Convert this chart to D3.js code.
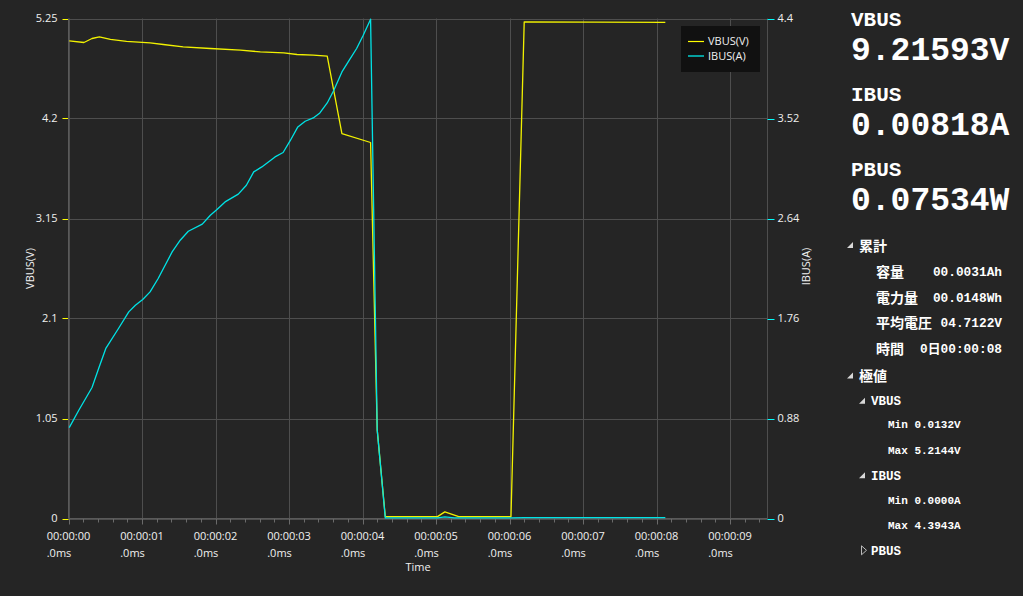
<!DOCTYPE html>
<html><head><meta charset="utf-8">
<script src="https://cdn.jsdelivr.net/npm/d3@7"></script>
<style>
html,body{margin:0;padding:0;background:#252525;}
svg{display:block;}
</style></head>
<body>
<svg id="c" width="1023" height="596"></svg>
<script>
// ---- data ----
const vTime = [0.01,0.21,0.32,0.42,0.57,0.79,1.11,1.29,1.56,1.93,2.34,2.61,2.93,3.11,3.33,3.52,3.72,4.11,4.2,4.31,5.02,5.12,5.31,6.02,6.2,8.12];
const vbusValues = [5.015,4.998,5.04,5.057,5.03,5.01,4.994,4.977,4.952,4.935,4.917,4.9,4.889,4.872,4.865,4.854,4.04,3.948,0.93,0.02,0.02,0.07,0.02,0.02,5.2144,5.21];
const iTime = [0.01,0.14,0.32,0.41,0.51,0.68,0.82,0.91,1.01,1.11,1.22,1.41,1.52,1.63,1.82,1.93,2.02,2.13,2.31,2.42,2.52,2.63,2.81,2.92,3.02,3.12,3.22,3.33,3.42,3.52,3.61,3.72,3.82,3.92,4.01,4.11,4.2,4.31,5.02,5.12,5.25,6.02,6.2,8.12];
const ibusValues = [0.80,0.953,1.153,1.32,1.50,1.672,1.818,1.877,1.927,1.994,2.112,2.346,2.449,2.528,2.59,2.669,2.719,2.786,2.854,2.933,3.05,3.094,3.182,3.221,3.329,3.446,3.496,3.525,3.569,3.657,3.769,3.93,4.033,4.136,4.253,4.3943,0.78,0.005,0.005,0.015,0.005,0.005,0.008,0.008];
const leftTicks = [0,1.05,2.1,3.15,4.2,5.25];
const rightTicks = [0,0.88,1.76,2.64,3.52,4.4];
const xTicks = [0,1,2,3,4,5,6,7,8,9];
const xTickLabels = ["00:00:00","00:00:01","00:00:02","00:00:03","00:00:04","00:00:05","00:00:06","00:00:07","00:00:08","00:00:09"];
const xTickSub = ".0ms";
const seriesNames = ["VBUS(V)","IBUS(A)"];
const seriesColors = ["#f2f200","#00e3e6"];
const liveLabels = ["VBUS","IBUS","PBUS"];
const liveValues = ["9.21593V","0.00818A","0.07534W"];
const accumLabels = ["容量","電力量","平均電圧","時間"];
const accumValues = ["00.0031Ah","00.0148Wh","04.7122V","0日00:00:08"];
const extremeRows = [["VBUS","Min 0.0132V","Max 5.2144V"],["IBUS","Min 0.0000A","Max 4.3943A"]];

// ---- layout ----
const svg = d3.select("#c");
const L = 68.5, R = 767.5, T = 18.5, B = 518.5;
const x = d3.scaleLinear().domain([0, 9.51]).range([L, R]);
const yV = d3.scaleLinear().domain([0, 5.25]).range([B, T]);
const yI = d3.scaleLinear().domain([0, 4.4]).range([B, T]);
const gridC = "#4e4e4e", textC = "#f0f0f0";
const tickFont = "'Segoe UI','Open Sans',sans-serif";

svg.append("rect").attr("width",1023).attr("height",596).attr("fill","#252525");

// grid
const g = svg.append("g");
g.selectAll(".hg").data(leftTicks).join("line")
  .attr("x1",L).attr("x2",R).attr("y1",d=>Math.round(yV(d))+0.5).attr("y2",d=>Math.round(yV(d))+0.5)
  .attr("stroke",gridC).attr("stroke-width",1);
g.selectAll(".vg").data(xTicks).join("line")
  .attr("x1",d=>Math.round(x(d))+0.5).attr("x2",d=>Math.round(x(d))+0.5).attr("y1",T).attr("y2",B)
  .attr("stroke",gridC).attr("stroke-width",1);
g.append("line").attr("x1",R).attr("x2",R).attr("y1",T).attr("y2",B).attr("stroke",gridC);

// left axis
const ax = svg.append("g").style("font-family",tickFont).style("font-size","11px");
ax.selectAll(".lt").data(leftTicks).join("line")
  .attr("x1",L-6).attr("x2",L).attr("y1",d=>Math.round(yV(d))+0.5).attr("y2",d=>Math.round(yV(d))+0.5)
  .attr("stroke","#ffff00");
ax.selectAll(".ll").data(leftTicks).join("text")
  .attr("x",L-11).attr("y",d=>yV(d)).attr("dy","0.35em").attr("text-anchor","end")
  .attr("fill",textC).text(d=>d);
// right axis
ax.selectAll(".rt").data(rightTicks).join("line")
  .attr("x1",R).attr("x2",R+7).attr("y1",d=>Math.round(yI(d))+0.5).attr("y2",d=>Math.round(yI(d))+0.5)
  .attr("stroke","#00ffff");
ax.selectAll(".rl").data(rightTicks).join("text")
  .attr("x",R+10).attr("y",d=>yI(d)).attr("dy","0.35em").attr("text-anchor","start")
  .attr("fill",textC).text(d=>d);
// bottom axis ticks
const minor = d3.range(0, 9.51, 0.2).filter(v=>Math.abs(v-Math.round(v))>0.01);
ax.selectAll(".mt").data(minor).join("line")
  .attr("x1",d=>Math.round(x(d))+0.5).attr("x2",d=>Math.round(x(d))+0.5).attr("y1",B).attr("y2",B+4)
  .attr("stroke","#6a6a6a");
ax.selectAll(".Mt").data(xTicks).join("line")
  .attr("x1",d=>Math.round(x(d))+0.5).attr("x2",d=>Math.round(x(d))+0.5).attr("y1",B).attr("y2",B+6)
  .attr("stroke","#6a6a6a");
xTicks.forEach((t,i)=>{
  const tx = ax.append("text").attr("fill",textC).attr("y",B+21).text(xTickLabels[i]);
  const w = tx.node().getComputedTextLength();
  const sx = x(t) - w/2;
  tx.attr("x",sx);
  ax.append("text").attr("fill",textC).attr("x",sx).attr("y",B+38).text(xTickSub);
});
// axis titles
ax.append("text").attr("fill",textC).attr("text-anchor","middle")
  .attr("x",(L+R)/2).attr("y",571).text("Time");
ax.append("text").attr("fill",textC).attr("text-anchor","middle")
  .attr("transform",`translate(34,${(T+B)/2}) rotate(-90)`).text("VBUS(V)");
ax.append("text").attr("fill",textC).attr("text-anchor","middle")
  .attr("transform",`translate(810,${(T+B)/2-2}) rotate(-90)`).text("IBUS(A)");
// axis lines
svg.append("line").attr("x1",L).attr("x2",L).attr("y1",T).attr("y2",B).attr("stroke","#5a5a5a");
svg.append("line").attr("x1",L).attr("x2",R).attr("y1",B).attr("y2",B).attr("stroke","#5a5a5a");

// lines
const lineV = d3.line().x(d=>x(d[0])).y(d=>yV(d[1]));
const lineI = d3.line().x(d=>x(d[0])).y(d=>yI(d[1]));
svg.append("path").datum(d3.zip(vTime,vbusValues)).attr("d",lineV)
  .attr("fill","none").attr("stroke",seriesColors[0]).attr("stroke-width",1.3).attr("stroke-linejoin","round");
svg.append("path").datum(d3.zip(iTime,ibusValues)).attr("d",lineI)
  .attr("fill","none").attr("stroke",seriesColors[1]).attr("stroke-width",1.3).attr("stroke-linejoin","round");

// legend
const lg = svg.append("g").style("font-family",tickFont).style("font-size","11px");
lg.append("rect").attr("x",681).attr("y",26).attr("width",79).attr("height",46).attr("fill","#111111");
seriesNames.forEach((n,i)=>{
  const yy = 41.5 + i*14.5;
  lg.append("line").attr("x1",688).attr("x2",704).attr("y1",yy).attr("y2",yy)
    .attr("stroke",i===0?"#ffff00":"#00ffff").attr("stroke-width",1.2);
  lg.append("text").attr("x",708).attr("y",yy).attr("dy","0.35em").attr("fill",textC).text(n);
});

// right panel
const mono = "'Liberation Mono','Noto Sans CJK JP',monospace";
const cjk = "'Noto Sans CJK JP',sans-serif";
const p = svg.append("g").attr("fill","#ffffff").style("font-weight","bold");
liveLabels.forEach((l,i)=>{
  const base = [26,101,176][i];
  p.append("text").attr("x",851).attr("y",base).style("font-family",mono).style("font-size","21px").text(l);
  p.append("text").attr("x",851).attr("y",base+34).style("font-family",mono).style("font-size","33px").text(liveValues[i]);
});
function tri(cx, cy, filled){
  if(filled){
    p.append("path").attr("d",`M${cx+3},${cy-3} L${cx+3},${cy+3} L${cx-3},${cy+3} Z`).attr("fill","#d8d8d8");
  } else {
    p.append("path").attr("d",`M${cx-2.5},${cy-4.5} L${cx+2.5},${cy} L${cx-2.5},${cy+4.5} Z`)
      .attr("fill","none").attr("stroke","#bbbbbb").attr("stroke-width",1);
  }
}
tri(850,245,true);
p.append("text").attr("x",859).attr("y",245.7).attr("dy","0.35em").style("font-family",cjk).style("font-size","14px").text("累計");
const accY = [271.7,297.7,322.7,349];
accumLabels.forEach((l,i)=>{
  p.append("text").attr("x",876).attr("y",accY[i]).attr("dy","0.35em").style("font-family",cjk).style("font-size","14px").text(l);
  p.append("text").attr("x",1002).attr("y",accY[i]).attr("dy","0.35em").attr("text-anchor","end")
    .style("font-family",mono).style("font-size","12.8px").text(accumValues[i]);
});
tri(850,375.5,true);
p.append("text").attr("x",859).attr("y",375.7).attr("dy","0.35em").style("font-family",cjk).style("font-size","14px").text("極値");
const exY = [[400.7,424.3,450],[475.3,500,525.3]];
extremeRows.forEach((r,i)=>{
  tri(862,exY[i][0],true);
  p.append("text").attr("x",871).attr("y",exY[i][0]).attr("dy","0.35em").style("font-family",mono).style("font-size","12.5px").text(r[0]);
  p.append("text").attr("x",888).attr("y",exY[i][1]).attr("dy","0.35em").style("font-family",mono).style("font-size","11px").text(r[1]);
  p.append("text").attr("x",888).attr("y",exY[i][2]).attr("dy","0.35em").style("font-family",mono).style("font-size","11px").text(r[2]);
});
tri(864,550.3,false);
p.append("text").attr("x",871).attr("y",550.3).attr("dy","0.35em").style("font-family",mono).style("font-size","12.5px").text("PBUS");
</script>
</body></html>
